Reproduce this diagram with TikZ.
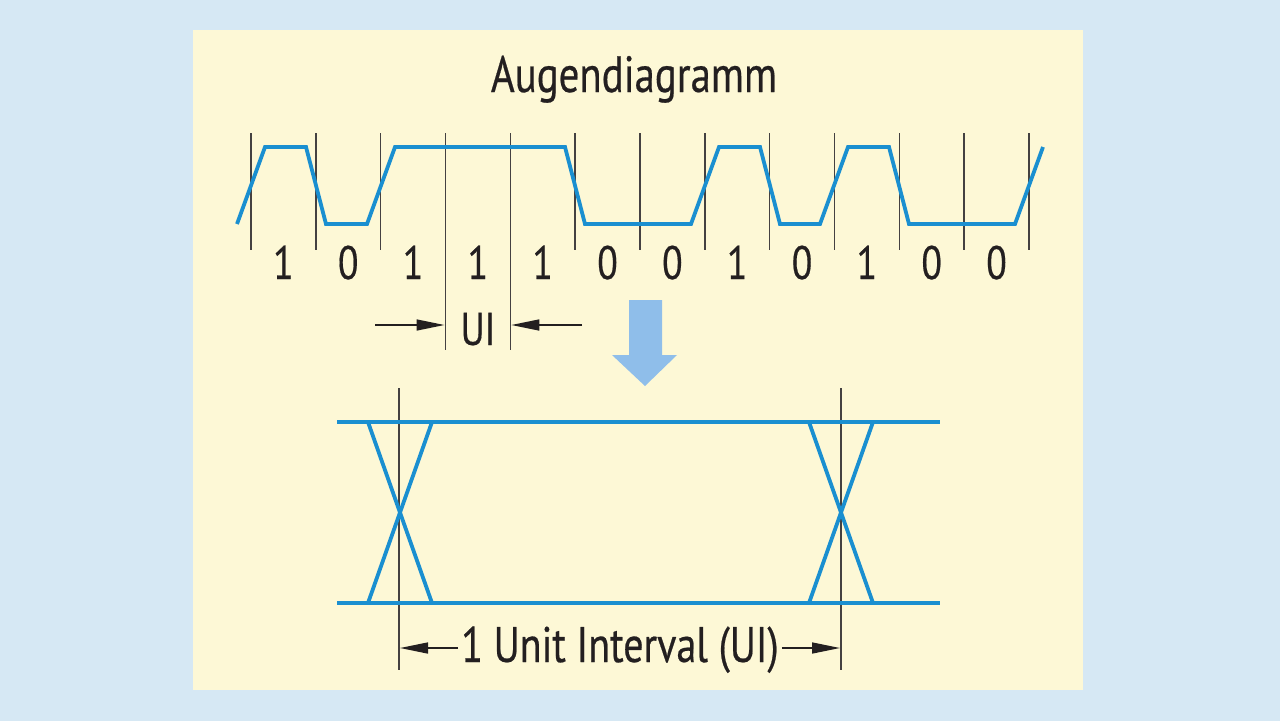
\documentclass[tikz,border=0pt]{standalone}
\usepackage{fontspec}
\setmainfont{PT Sans}[FakeStretch=0.8,FakeBold=0.4]
\usetikzlibrary{arrows.meta,calc}
\definecolor{bgblue}{RGB}{214,232,244}
\definecolor{panel}{RGB}{253,248,214}
\definecolor{wave}{RGB}{26,143,208}
\definecolor{bigarrow}{RGB}{143,190,234}
\definecolor{ink}{RGB}{35,31,32}
\begin{document}
\begin{tikzpicture}[x=1pt,y=-1pt,
  sig/.style={draw=wave,line width=3.8pt,line join=miter},
  grid/.style={draw=ink!85,line width=1.5pt},
  dim/.style={draw=ink,line width=1.5pt,-{Triangle[length=28pt,width=11pt]}},
  bit/.style={anchor=base,inner sep=0pt,font=\fontsize{47}{50}\selectfont,text=ink},
  lbl/.style={anchor=base,inner sep=0pt,text=ink}]
\fill[bgblue] (0,0) rectangle (1280,721);
\useasboundingbox (0,0) rectangle (1280,721);
\fill[panel] (193,30) rectangle (1083,690);
\node[lbl,font=\fontsize{51}{54}\selectfont] (title) at (634,92) {Augendiagramm};
% grid lines
\foreach \k in {0,1,2,5,6,7,8,9,10,11,12}{
  \coordinate (t\k) at ({251+64.83*\k},133);
  \coordinate (b\k) at ({251+64.83*\k},250);
  \draw[grid] (t\k) -- (b\k);
}
\foreach \k in {3,4}{
  \coordinate (t\k) at ({251+64.83*\k},133);
  \coordinate (b\k) at ({251+64.83*\k},350);
  \draw[grid] (t\k) -- (b\k);
}
% bits
\foreach \k/\b in {0/1,1/0,2/1,3/1,4/1,5/0,6/0,7/1,8/0,9/1,10/0,11/0}{
  \node[bit] (d\k) at ({283.4+64.83*\k},279) {\b};
}
% waveform
\draw[sig] (237,224) -- (265,147) -- (306,147) -- (326,224) -- (367,224) -- (395,147)
  -- (565,147) -- (585,224) -- (691,224) -- (719,147) -- (760,147) -- (780,224)
  -- (820,224) -- (848,147) -- (889,147) -- (909,224) -- (1015,224) -- (1043,147);
% UI marker
\node[lbl,font=\fontsize{46}{50}\selectfont] (ui) at (478,345) {UI};
\coordinate (ual) at (375,325);
\coordinate (uar) at (582,325);
\draw[dim] (ual) -- (444.5,325);
\draw[dim] (uar) -- (511.3,325);
% big arrow
\fill[bigarrow] (629,300) -- (662,300) -- (662,355) -- (677,355) -- (645,386)
  -- (612,355) -- (629,355) -- cycle;
% eye diagram
\coordinate (el) at (399,388);
\coordinate (er) at (841,388);
\coordinate (ell) at (399,670);
\coordinate (erl) at (841,670);
\draw[grid] (el) -- (ell);
\draw[grid] (er) -- (erl);
\draw[sig] (337,422) -- (940,422);
\draw[sig] (337,603) -- (940,603);
\draw[sig] (368,422) -- (432,603);
\draw[sig] (432,422) -- (368,603);
\draw[sig] (809,422) -- (873,603);
\draw[sig] (873,422) -- (809,603);
\node[lbl,font=\fontsize{50}{54}\selectfont] (unit) at (620,662) {1 Unit Interval (UI)};
\draw[dim] (unit.west |- 0,648) ++(-3,0) coordinate (ula) -- (400,648);
\draw[dim] (unit.east |- 0,648) ++(3,0) coordinate (ura) -- (840,648);
\end{tikzpicture}
\end{document}
